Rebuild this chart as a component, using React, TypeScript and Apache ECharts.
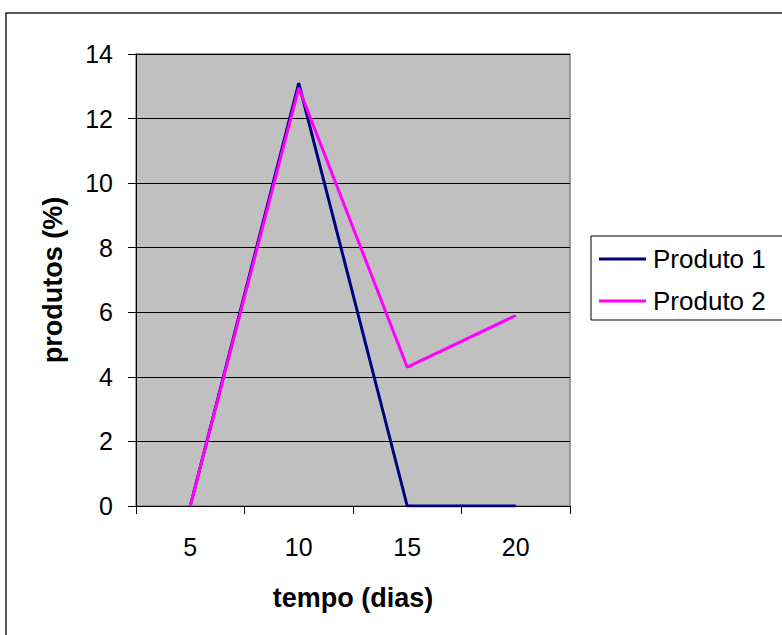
import React, { useEffect, useRef } from "react";
import * as echarts from "echarts";

const categories = ["5", "10", "15", "20"];
const produto1 = [0, 13.1, 0, 0];
const produto2 = [0, 12.95, 4.3, 5.9];
const yTicks = { min: 0, max: 14, interval: 2 };

export default function App() {
  const ref = useRef<HTMLDivElement>(null);
  useEffect(() => {
    if (!ref.current) return;
    const chart = echarts.init(ref.current, null, { renderer: "svg" });
    const font = "'Liberation Sans', Arial, sans-serif";
    chart.setOption({
      animation: false,
      backgroundColor: "#ffffff",
      textStyle: { fontFamily: font },
      graphic: [
        {
          type: "rect",
          shape: { x: 6, y: 13, width: 800, height: 700 },
          style: { fill: "none", stroke: "#222", lineWidth: 1.5 },
          silent: true,
        },
      ],
      grid: {
        left: 136,
        top: 54,
        width: 434,
        height: 452,
        show: true,
        backgroundColor: "#c0c0c0",
        borderColor: "#808080",
        borderWidth: 1.5,
      },
      legend: {
        orient: "vertical",
        left: 591,
        top: 236,
        icon: "rect",
        itemWidth: 47,
        itemHeight: 3,
        itemGap: 16,
        padding: [10, 30, 6, 8],
        borderColor: "#000",
        borderWidth: 1,
        backgroundColor: "#fff",
        textStyle: { fontSize: 26, color: "#000", fontFamily: font, padding: [0, 0, 0, 2] },
        data: ["Produto 1", "Produto 2"],
      },
      xAxis: {
        type: "category",
        data: categories,
        boundaryGap: true,
        name: "tempo (dias)",
        nameLocation: "middle",
        nameGap: 78,
        nameTextStyle: { fontSize: 27, fontWeight: "bold", color: "#000", fontFamily: font },
        axisLine: { lineStyle: { color: "#000", width: 1 } },
        axisTick: { show: true, length: 8, lineStyle: { color: "#000" } },
        axisLabel: { fontSize: 25, color: "#000", margin: 28, fontFamily: font },
      },
      yAxis: {
        type: "value",
        min: yTicks.min,
        max: yTicks.max,
        interval: yTicks.interval,
        name: "produtos (%)",
        nameLocation: "middle",
        nameRotate: 90,
        nameGap: 70,
        nameTextStyle: { fontSize: 27, fontWeight: "bold", color: "#000", fontFamily: font },
        axisLine: { show: true, lineStyle: { color: "#000", width: 1 } },
        axisTick: { show: true, length: 8, lineStyle: { color: "#000" } },
        axisLabel: { fontSize: 25, color: "#000", margin: 23, fontFamily: font },
        splitLine: { show: true, lineStyle: { color: "#000", width: 1 } },
      },
      series: [
        {
          name: "Produto 1",
          type: "line",
          data: produto1,
          symbol: "none",
          color: "#000080",
          lineStyle: { color: "#000080", width: 3 },
        },
        {
          name: "Produto 2",
          type: "line",
          data: produto2,
          symbol: "none",
          color: "#ff00ff",
          lineStyle: { color: "#ff00ff", width: 3 },
        },
      ],
    });
    return () => chart.dispose();
  }, []);
  return (
    <div
      ref={ref}
      style={{ position: "absolute", left: 0, top: 0, width: 782, height: 635 }}
    />
  );
}
